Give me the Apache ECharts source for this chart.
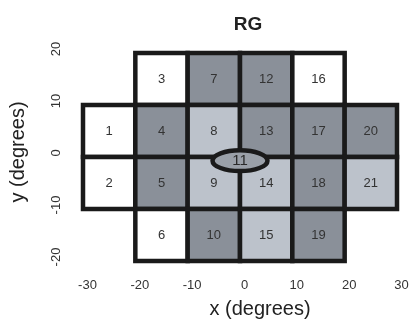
<!DOCTYPE html>
<html><head><meta charset="utf-8">
<script src="https://cdn.jsdelivr.net/npm/echarts@6/dist/echarts.min.js"></script>
<style>html,body{margin:0;padding:0;background:#fff}#c{width:413px;height:329px}</style>
</head><body><div id="c"></div>
<script>
// Cell data (degrees): label, center x, center y, shade class (0 white, 1 light, 2 dark)
const cellLabels = [1, 2, 3, 4, 5, 6, 7, 8, 9, 10, 12, 13, 14, 15, 16, 17, 18, 19, 20, 21];
const cellX      = [-25, -25, -15, -15, -15, -15, -5, -5, -5, -5, 5, 5, 5, 5, 15, 15, 15, 15, 25, 25];
const cellY      = [5, -5, 15, 5, -5, -15, 15, 5, -5, -15, 15, 5, -5, -15, 15, 5, -5, -15, 5, -5];
const cellShade  = [0, 0, 0, 2, 2, 0, 2, 1, 1, 2, 2, 2, 1, 1, 0, 2, 2, 2, 2, 1];
const cellSize = 10;
// Central ellipse (cell 11)
const ellipseLabel = [11];
const ellipseX = [0];
const ellipseY = [-0.7];
const ellipseW = [10.5];
const ellipseH = [4];
const xTicks = [-30, -20, -10, 0, 10, 20, 30];
const yTicks = [-20, -10, 0, 10, 20];

const shadeColors = ['#ffffff', '#bcc2cb', '#8a9099'];
const lineColor = '#1a1a1a';

const cellData = cellLabels.map((l, i) => [cellX[i], cellY[i], cellShade[i], l]);
const ellData = ellipseLabel.map((l, i) => [ellipseX[i], ellipseY[i], ellipseW[i], ellipseH[i], l]);

const chart = echarts.init(document.getElementById('c'));
chart.setOption({
  animation: false,
  title: {text: 'RG', left: 243, top: 10, textAlign: 'center',
    textStyle: {fontFamily: 'Liberation Sans', fontSize: 19, fontWeight: 'bold', color: '#222'}},
  grid: {left: 83, right: 16, top: 53, bottom: 68},
  xAxis: {type: 'value', min: xTicks[0], max: xTicks[xTicks.length - 1], interval: 10,
    axisLine: {show: false}, axisTick: {show: false}, splitLine: {show: false},
    axisLabel: {margin: 18, fontFamily: 'Liberation Sans', fontSize: 13, color: '#333', padding: [0, 0, 0, 9]},
    name: 'x (degrees)', nameLocation: 'middle', nameGap: 38,
    nameTextStyle: {fontFamily: 'Liberation Sans', fontSize: 20, color: '#222', padding: [0, 0, 0, 40]}},
  yAxis: {type: 'value', min: yTicks[0], max: yTicks[yTicks.length - 1], interval: 10,
    axisLine: {show: false}, axisTick: {show: false}, splitLine: {show: false},
    axisLabel: {margin: 20, rotate: 90, fontFamily: 'Liberation Sans', fontSize: 13, color: '#333', padding: [0, 0, 0, 8]},
    name: 'y (degrees)', nameLocation: 'middle', nameGap: 55,
    nameTextStyle: {fontFamily: 'Liberation Sans', fontSize: 20, color: '#222', padding: [0, 0, 0, 10]}},
  series: [
    {type: 'custom', data: cellData, z: 2,
      renderItem: function (params, api) {
        const c = api.coord([api.value(0), api.value(1)]);
        const s = api.size([cellSize, cellSize]);
        return {type: 'group', children: [
          {type: 'rect', shape: {x: c[0] - s[0] / 2, y: c[1] - s[1] / 2, width: s[0], height: s[1]},
            style: {fill: shadeColors[api.value(2)], stroke: lineColor, lineWidth: 4.5}},
          {type: 'text', x: c[0], y: c[1],
            style: {text: String(api.value(3)), textAlign: 'center', textVerticalAlign: 'middle',
              fontFamily: 'Liberation Sans', fontSize: 13, fill: '#333'}}
        ]};
      }},
    {type: 'custom', data: ellData, z: 3,
      renderItem: function (params, api) {
        const c = api.coord([api.value(0), api.value(1)]);
        const s = api.size([api.value(2), api.value(3)]);
        return {type: 'group', children: [
          {type: 'ellipse', shape: {cx: c[0], cy: c[1], rx: s[0] / 2, ry: s[1] / 2},
            style: {fill: '#9aa0a8', stroke: lineColor, lineWidth: 4.5}},
          {type: 'text', x: c[0], y: c[1],
            style: {text: String(api.value(4)), textAlign: 'center', textVerticalAlign: 'middle',
              fontFamily: 'Liberation Sans', fontSize: 15, fill: '#2a2a2a'}}
        ]};
      }}
  ]
});
</script></body></html>
